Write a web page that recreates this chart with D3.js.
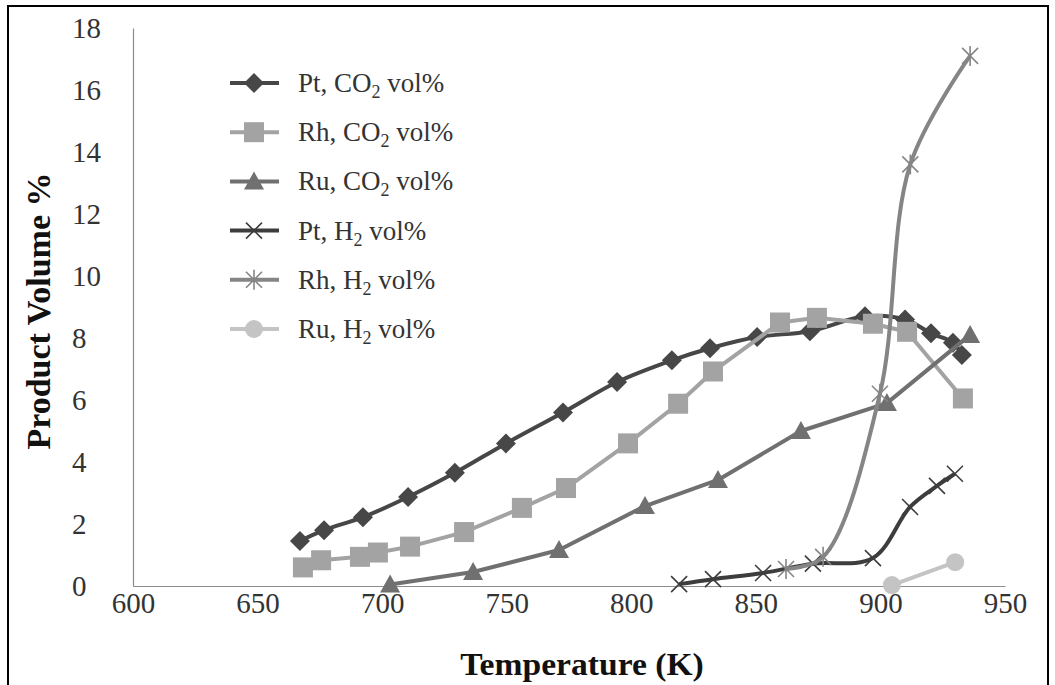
<!DOCTYPE html>
<html>
<head>
<meta charset="utf-8">
<script src="https://cdn.jsdelivr.net/npm/d3@7"></script>
<style>
  html, body { margin: 0; padding: 0; background: #fff; }
  svg { display: block; }
  text { font-family: "Liberation Serif", "Times New Roman", serif; }
</style>
</head>
<body>
<svg id="chart" width="1055" height="685"></svg>
<script>
// Temperature (K) / product volume % for each catalyst series
const ptCO2 = [[667,1.45],[676.7,1.8],[692.3,2.22],[710.4,2.87],[729.2,3.65],[749.7,4.6],[772.6,5.6],[794.3,6.58],[816.3,7.28],[831.6,7.67],[850.5,8.03],[871.7,8.22],[893.8,8.7],[909.9,8.6],[920.3,8.15],[929.1,7.85],[932.7,7.45]];
const rhCO2 = [[668.2,0.6],[675.5,0.83],[691.1,0.94],[698.3,1.08],[711.2,1.27],[732.9,1.74],[756.1,2.52],[773.8,3.16],[798.7,4.6],[818.8,5.88],[832.8,6.92],[859.7,8.5],[874.5,8.65],[897,8.46],[910.7,8.2],[933.1,6.05]];
const ruCO2 = [[703.2,0.05],[736.5,0.45],[771,1.16],[805.5,2.58],[834.8,3.42],[868.1,5.0],[902.6,5.9],[936,8.1]];
const ptH2  = [[819.2,0.06],[832.8,0.22],[852.9,0.42],[872.9,0.72],[897,0.9],[911.9,2.55],[922.7,3.23],[929.9,3.62]];
const rhH2  = [[862.1,0.55],[877,0.94],[899.8,6.2],[912,13.6],[936,17.1]];
const ruH2  = [[904.6,0.03],[930,0.77]];

const seriesNames = ["Pt, CO", "Rh, CO", "Ru, CO", "Pt, H", "Rh, H", "Ru, H"];
const xTicks = [600, 650, 700, 750, 800, 850, 900, 950];
const yTicks = [0, 2, 4, 6, 8, 10, 12, 14, 16, 18];

const series = [
  { name: seriesNames[0], values: ptCO2, color: "#474747", marker: "diamond", smooth: true },
  { name: seriesNames[1], values: rhCO2, color: "#a3a3a3", marker: "square",  smooth: false },
  { name: seriesNames[2], values: ruCO2, color: "#707070", marker: "triangle", smooth: false },
  { name: seriesNames[3], values: ptH2,  color: "#3d3d3d", marker: "x",       smooth: true },
  { name: seriesNames[4], values: rhH2,  color: "#858585", marker: "star",    smooth: true },
  { name: seriesNames[5], values: ruH2,  color: "#c4c4c4", marker: "circle",  smooth: false }
];

const svg = d3.select("#chart");

// outer frame
svg.append("rect").attr("x", 8).attr("y", 6).attr("width", 1040).attr("height", 690)
  .attr("fill", "none").attr("stroke", "#000").attr("stroke-width", 2);

const x = d3.scaleLinear().domain([600, 950]).range([133, 1005]);
const y = d3.scaleLinear().domain([0, 18]).range([586, 28]);

// axes
const xAxis = svg.append("g").attr("transform", `translate(0,${y(0)})`)
  .call(d3.axisBottom(x).tickValues(xTicks).tickSize(0).tickPadding(12));
xAxis.select(".domain").attr("stroke", "#8c8c8c").attr("stroke-width", 1.2);
xAxis.selectAll("text").attr("font-size", 29).attr("fill", "#333")
  .attr("font-family", "Liberation Serif").attr("dy", "0.5em");

const yAxis = svg.append("g").attr("transform", `translate(${x(600)},0)`)
  .call(d3.axisLeft(y).tickValues(yTicks).tickSize(0).tickPadding(0));
yAxis.select(".domain").attr("stroke", "#8c8c8c").attr("stroke-width", 1.2);
yAxis.selectAll("text").attr("font-size", 29).attr("fill", "#333")
  .attr("font-family", "Liberation Serif")
  .attr("text-anchor", "start").attr("x", 72 - x(600));

// axis titles
svg.append("text").attr("transform", "translate(582,675) scale(1.05,1)")
  .attr("text-anchor", "middle")
  .attr("font-size", 32).attr("font-weight", "bold").attr("fill", "#111")
  .text("Temperature (K)");
svg.append("text").attr("transform", `translate(50,${y(9) + 4}) rotate(-90)`)
  .attr("text-anchor", "middle").attr("font-size", 34).attr("font-weight", "bold").attr("fill", "#111")
  .text("Product Volume %");

// marker drawing
function drawMarker(g, type, color) {
  switch (type) {
    case "diamond":
      g.append("path").attr("d", "M0,-10L10,0L0,10L-10,0Z").attr("fill", color);
      break;
    case "square":
      g.append("rect").attr("x", -10).attr("y", -10).attr("width", 20).attr("height", 20).attr("fill", color);
      break;
    case "triangle":
      g.append("path").attr("d", "M0,-10L10,8L-10,8Z").attr("fill", color);
      break;
    case "x":
      g.append("path").attr("d", "M-8,-8L8,8M-8,8L8,-8").attr("stroke", color).attr("stroke-width", 1.6).attr("fill", "none");
      break;
    case "star":
      g.append("path").attr("d", "M-8,-8L8,8M-8,8L8,-8M0,-10L0,10").attr("stroke", color).attr("stroke-width", 1.6).attr("fill", "none");
      break;
    case "circle":
      g.append("circle").attr("r", 9).attr("fill", color);
      break;
  }
}

const plot = svg.append("g");
series.forEach(s => {
  const line = d3.line()
    .x(d => x(d[0])).y(d => y(d[1]))
    .curve(s.smooth ? d3.curveCatmullRom.alpha(0.5) : d3.curveLinear);
  const g = plot.append("g");
  g.append("path").datum(s.values).attr("d", line)
    .attr("fill", "none").attr("stroke", s.color).attr("stroke-width", 4)
    .attr("stroke-linejoin", "round");
  s.values.forEach(d => {
    drawMarker(g.append("g").attr("transform", `translate(${x(d[0])},${y(d[1])})`), s.marker, s.color);
  });
});

// legend
const legend = svg.append("g");
series.forEach((s, i) => {
  const ly = 83 + i * 49.2;
  const row = legend.append("g").attr("transform", `translate(0,${ly})`);
  row.append("line").attr("x1", 230).attr("x2", 279).attr("y1", 0).attr("y2", 0)
    .attr("stroke", s.color).attr("stroke-width", 4);
  drawMarker(row.append("g").attr("transform", "translate(254,0)"), s.marker, s.color);
  const t = row.append("text").attr("x", 298).attr("y", 9).attr("font-size", 27).attr("fill", "#333");
  t.append("tspan").text(s.name);
  t.append("tspan").attr("font-size", 18).attr("dy", 6).text("2");
  t.append("tspan").attr("dy", -6).text(" vol%");
});
</script>
</body>
</html>
